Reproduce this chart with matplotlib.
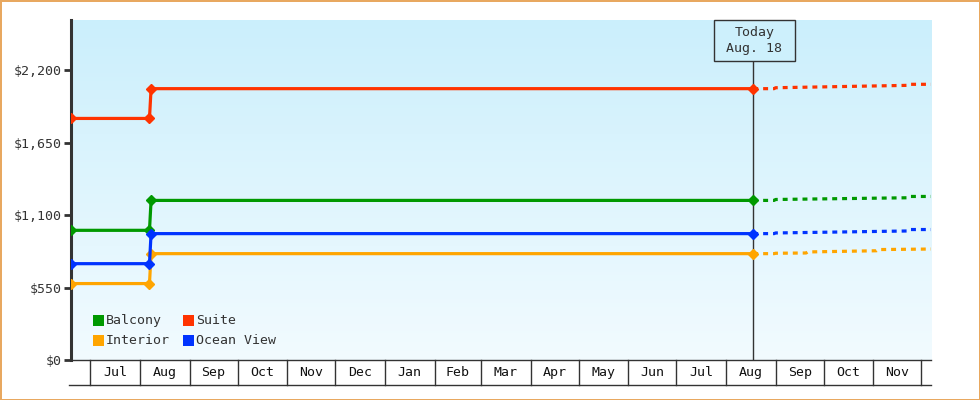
import matplotlib
matplotlib.use('Agg')
import matplotlib.pyplot as plt
import matplotlib.dates as mdates
import numpy as np
import pandas as pd

# price history (solid) and forecast (dashed), values in $
hist_dates = ['2023-06-19', '2023-08-07', '2023-08-08', '2024-08-18']
balcony_hist = [984, 984, 1211, 1211]
suite_hist = [1833, 1833, 2059, 2059]
interior_hist = [580, 580, 807, 807]
ocean_hist = [731, 731, 959, 959]

fc_dates = ['2024-08-18', '2024-08-31', '2024-09-01', '2024-11-22', '2024-11-23', '2024-12-07']
balcony_fc = [1211, 1211, 1218, 1231, 1241, 1241]
suite_fc = [2059, 2059, 2066, 2084, 2092, 2092]
ocean_fc = [959, 959, 964, 979, 990, 990]
interior_fc_dates = ['2024-08-18', '2024-08-31', '2024-09-01', '2024-09-20', '2024-09-21',
                     '2024-11-03', '2024-11-04', '2024-12-07']
interior_fc = [807, 807, 810, 812, 820, 829, 838, 842]

series_names = ['Balcony', 'Suite', 'Interior', 'Ocean View']
series_colors = ['#009900', '#ff3300', '#ffa500', '#0033ff']

y_ticks = [0, 550, 1100, 1650, 2200]
y_labels = ['$0', '$550', '$1,100', '$1,650', '$2,200']
x_start, x_end = '2023-06-19', '2024-12-07'
today = '2024-08-18'
today_label = 'Today\nAug. 18'

mono = 'DejaVu Sans Mono'
plt.rcParams['font.family'] = mono

fig = plt.figure(figsize=(9.8, 4.0), dpi=100)
fig.patch.set_facecolor('white')
fig.patch.set_edgecolor('#e8a860')
fig.patch.set_linewidth(2)

ax = fig.add_axes([71 / 980, 40 / 400, 860 / 980, 340 / 400])
d = lambda s: mdates.date2num(pd.Timestamp(s))
ax.set_xlim(d(x_start), d(x_end))
ax.set_ylim(0, 2580)

# gradient background
grad = np.linspace(0, 1, 256).reshape(-1, 1)
top = np.array([0xcb, 0xef, 0xfc]) / 255
bot = np.array([0xf2, 0xfb, 0xff]) / 255
img = top + (bot - top) * grad[:, :, None]
ax.imshow(img, extent=[0, 1, 0, 1], transform=ax.transAxes, aspect='auto', zorder=0)

hist = [balcony_hist, suite_hist, interior_hist, ocean_hist]
fcs = [(fc_dates, balcony_fc), (fc_dates, suite_fc), (interior_fc_dates, interior_fc), (fc_dates, ocean_fc)]
hx = [d(s) for s in hist_dates]
for name, col, hv, (fd, fv) in zip(series_names, series_colors, hist, fcs):
    ax.plot([d(s) for s in fd], fv, color=col, lw=2.3, ls=(0, (1.55, 1.55)), zorder=3)
    ax.plot(hx, hv, color=col, lw=2.3, marker='D', ms=5.5, zorder=4)

# today line + box
ax.axvline(d(today), color='#333333', lw=1, zorder=2)
box = plt.Rectangle((714 / 980, 1 - 61 / 400), 81 / 980, 41 / 400, transform=fig.transFigure,
                    fc='#cdf0fc', ec='#333333', lw=1, zorder=5)
fig.patches.append(box)
fig.text(754.5 / 980, 1 - 40.5 / 400, today_label, ha='center', va='center', fontsize=9.5,
         color='#333333', linespacing=1.25, zorder=6)

# y axis
ax.set_yticks(y_ticks)
ax.set_yticklabels(y_labels, fontsize=9.5, color='#333333')
ax.tick_params(axis='y', length=5, width=2, color='#333333', pad=2)
for s in ['top', 'right', 'bottom']:
    ax.spines[s].set_visible(False)
ax.spines['left'].set_linewidth(2.2)
ax.spines['left'].set_color('#333333')

# month cells under the plot
ax.set_xticks([])
months = pd.date_range('2023-07-01', '2024-12-01', freq='MS')
xt = ax.get_xaxis_transform()
cell_h = 25 / 340
ax.plot([0, 1], [0, 0], transform=ax.transAxes, color='#333333', lw=1, clip_on=False)
ax.plot([-0.002, 1], [-cell_h, -cell_h], transform=ax.transAxes, color='#333333', lw=1, clip_on=False)
for m in months:
    ax.plot([d(m), d(m)], [0, -cell_h], transform=xt, color='#333333', lw=1, clip_on=False)
for a, b in zip(months[:-1], months[1:]):
    ax.text((d(a) + d(b)) / 2, -cell_h / 2, a.strftime('%b'), transform=xt, ha='center', va='center',
            fontsize=9.5, color='#111111')

# legend
leg_pos = [(93, 315), (183, 315), (93, 335), (183, 335)]
for (px, py), name, col in zip(leg_pos, series_names, series_colors):
    fig.patches.append(plt.Rectangle((px / 980, 1 - (py + 11) / 400), 11 / 980, 11 / 400,
                                     transform=fig.transFigure, fc=col, ec='none', zorder=6))
    fig.text((px + 13) / 980, 1 - (py + 5.5) / 400, name, ha='left', va='center', fontsize=9.5,
             color='#333333', zorder=6)

fig.savefig('out.png', dpi=100, facecolor=fig.get_facecolor(), edgecolor=fig.get_edgecolor())
